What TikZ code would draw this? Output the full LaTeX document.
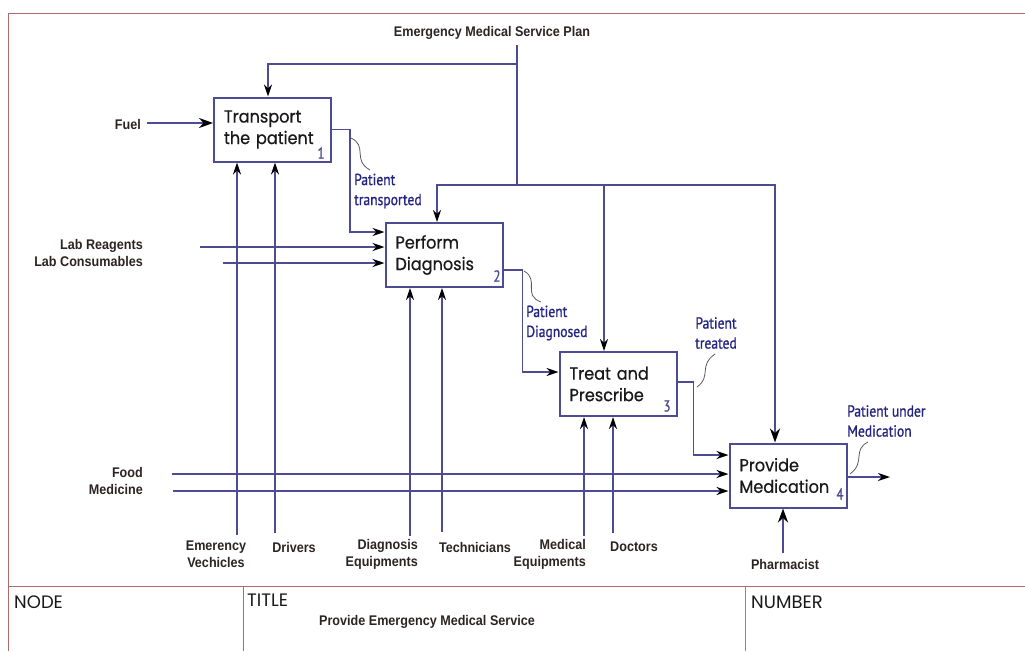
\documentclass[tikz,border=0pt]{standalone}
\usepackage{fontspec}
\usetikzlibrary{arrows.meta,calc}

\newfontfamily\boxfont[FakeStretch=0.92,FakeBold=0.6]{Poppins}
\newfontfamily\headfont{Poppins}
\newfontfamily\tagfont[FakeStretch=0.9]{Liberation Sans}
\newfontfamily\flowfont[FakeStretch=0.85,FakeBold=1]{PT Sans}
\newfontfamily\numfont[FakeStretch=0.8,FakeBold=1]{PT Sans}

\definecolor{linecol}{RGB}{76,76,146}
\definecolor{bluetext}{RGB}{35,35,130}
\definecolor{labeltext}{RGB}{45,35,35}
\definecolor{framecol}{RGB}{175,105,105}
\definecolor{divgray}{RGB}{140,140,140}

\tikzset{
  box/.style={draw=linecol, line width=2pt, minimum width=117pt, minimum height=64pt,
    inner sep=0pt, text width=97pt, align=left, text=black!90,
    font=\boxfont\fontsize{17.5}{21.5}\selectfont},
  flow/.style={draw=linecol, line width=1.8pt,
    -{Stealth[length=12pt,width=8pt,color=black]}},
  heavyflow/.style={flow, line width=2.3pt,
    -{Stealth[length=14pt,width=10pt,color=black]}},
  plain/.style={draw=linecol, line width=1.8pt},
  tag/.style={text=labeltext, inner sep=0pt,
    font=\tagfont\bfseries\fontsize{14}{17}\selectfont},
  ftag/.style={text=bluetext, inner sep=0pt, align=left,
    font=\flowfont\fontsize{16}{20}\selectfont},
  num/.style={text=linecol, inner sep=0pt,
    font=\numfont\fontsize{16}{16}\selectfont},
  squig/.style={draw=black!65, line width=0.8pt},
  frame/.style={draw=framecol, line width=1pt},
  head/.style={text=black!90, inner sep=0pt, anchor=west,
    font=\headfont\fontsize{18}{20}\selectfont}
}

\begin{document}
\begin{tikzpicture}[x=1pt,y=-1pt]
\useasboundingbox (0,0) rectangle (1025,651);

% form frame and title block
\draw[frame] (8,651) -- (8,13) -- (1025,13);
\draw[frame] (8,586) -- (1025,586);
\draw[frame] (243,586) -- (243,651);
\draw[draw=divgray, line width=1pt] (745,586) -- (745,651);
\node[head] (nodehead) at (14,602) {NODE};
\node[head] (titlehead) at (247,600) {TITLE};
\node[head] (numhead) at (751,602) {NUMBER};
\node[tag] (title) at (427,622) {Provide Emergency Medical Service};

% activities
\node[box] (p1) at (272.5,129.5) {Transport\\the patient};
\node[box] (p2) at (444,255) {Perform\\Diagnosis};
\node[box] (p3) at (618,384) {Treat and\\Prescribe};
\node[box] (p4) at (788,475.5) {Provide\\Medication};
\node[num] (n1) at (321,153) {1};
\node[num] (n2) at (497,276) {2};
\node[num] (n3) at (667,406) {3};
\node[num] (n4) at (840,494) {4};

% control: the service plan
\node[tag] (plan) at (492,33) {Emergency Medical Service Plan};
\coordinate (c0) at (517,45);
\coordinate (c1) at (517,64);
\coordinate (c2) at (517,185);
\draw[plain] (c0) -- (c2);
\draw[flow] (c1) -| ([xshift=-4.5pt]p1.north);
\draw[flow] (c2) -| ([xshift=-7pt]p2.north);
\draw[flow] (c2) -| ([xshift=-14pt]p3.north);
\draw[heavyflow] (c2) -| ([xshift=-13pt]p4.north);

% inputs
\coordinate (i1) at (147,123);
\coordinate (i2) at (200,247);
\coordinate (i3) at (223,263);
\coordinate (i4) at (172,474);
\coordinate (i5) at (173,491);
\draw[heavyflow] (i1) -- (i1 -| p1.west);
\draw[flow] (i2) -- (i2 -| p2.west);
\draw[flow] (i3) -- (i3 -| p2.west);
\draw[flow] (i4) -- (i4 -| p4.west);
\draw[flow] (i5) -- (i5 -| p4.west);
\node[tag, anchor=east] (fuel) at (141,124) {Fuel};
\node[tag, anchor=east, align=right] (lab) at (143,253) {Lab Reagents\\Lab Consumables};
\node[tag, anchor=east, align=right] (food) at (143,481) {Food\\Medicine};

% mechanisms
\coordinate (m1) at (237,535);
\coordinate (m2) at (275,533);
\coordinate (m3) at (410,536);
\coordinate (m4) at (442,532);
\coordinate (m5) at (584,536);
\coordinate (m6) at (613,533);
\coordinate (m7) at (783,553);
\draw[flow] (m1) -- (m1 |- p1.south);
\draw[flow] (m2) -- (m2 |- p1.south);
\draw[flow] (m3) -- (m3 |- p2.south);
\draw[flow] (m4) -- (m4 |- p2.south);
\draw[flow] (m5) -- (m5 |- p3.south);
\draw[flow] (m6) -- (m6 |- p3.south);
\draw[heavyflow] (m7) -- (m7 |- p4.south);
\node[tag, align=center] (ev) at (216,554) {Emerency\\Vechicles};
\node[tag] (drv) at (294,547) {Drivers};
\node[tag, anchor=east, align=right] (de) at (418,554) {Diagnosis\\Equipments};
\node[tag] (tech) at (475,547) {Technicians};
\node[tag, anchor=east, align=right] (me) at (586,554) {Medical\\Equipments};
\node[tag] (doc) at (634,547) {Doctors};
\node[tag] (ph) at (785,564) {Pharmacist};

% outputs
\coordinate (o4) at (890,477);
\draw[flow] (p1.east) -- ++(18,0) |- ([yshift=23pt]p2.west);
\draw[flow] ([yshift=-15pt]p2.east) -- ++(19,0) |- ([yshift=12pt]p3.west);
\draw[flow] ([yshift=2pt]p3.east) -- ++(16,0) |- ([yshift=20.5pt]p4.west);
\draw[flow] ([yshift=-1.5pt]p4.east) -- (o4);

% output labels with their leader squiggles
\node[ftag, anchor=west] (l1) at (354,191) {Patient\\transported};
\node[ftag, anchor=west] (l2) at (526,323) {Patient\\Diagnosed};
\node[ftag, align=center] (l3) at (716,333) {Patient\\treated};
\node[ftag, anchor=west] (l4) at (847,421) {Patient under\\Medication};
\draw[squig] (351,138) .. controls (368,146) and (352,160) .. (370,170);
\draw[squig] (524,271) .. controls (540,280) and (522,295) .. (541,302);
\draw[squig] (697,387) .. controls (712,376) and (698,366) .. (715,354);
\draw[squig] (850,474) .. controls (866,462) and (852,450) .. (868,442);
\end{tikzpicture}
\end{document}
